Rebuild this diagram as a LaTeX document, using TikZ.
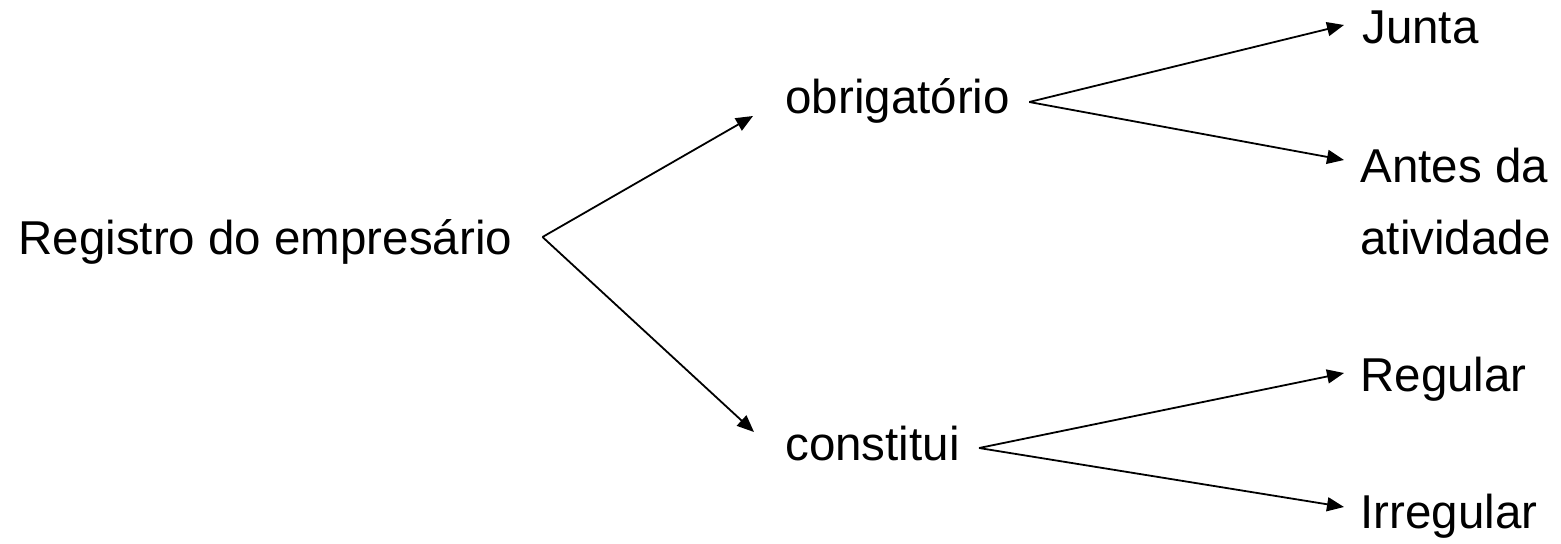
\documentclass[tikz,border=0pt]{standalone}
\usepackage{fontspec}
\setmainfont{Liberation Sans}
\usetikzlibrary{arrows.meta}

\tikzset{
  lbl/.style={inner sep=0pt,anchor=base west,font=\fontsize{23.75}{28}\selectfont},
  arr/.style={-{Triangle[length=8.5pt,width=7pt]},line width=0.9pt}
}

\begin{document}
\begin{tikzpicture}[x=0.5pt,y=-0.5pt]
    \useasboundingbox (0,0) rectangle (1561,543);
    % texts
    \node[lbl] (reg) at (18,254) {Registro do empresário};
    \node[lbl] (obr) at (785,113) {obrigatório};
    \node[lbl] (con) at (785,460) {constitui};
    \node[lbl] (jun) at (1362,43) {Junta};
    \node[lbl] (ant) at (1360,182) {Antes da};
    \node[lbl] (ati) at (1360,254) {atividade};
    \node[lbl] (rgl) at (1360,391) {Regular};
    \node[lbl] (irr) at (1360,528) {Irregular};
    % fork points
    \coordinate (regfork) at ([shift={(30,-17)}]reg.base east);
    \coordinate (obrfork) at ([shift={(19,-11)}]obr.base east);
    \coordinate (confork) at ([shift={(19,-12)}]con.base east);
    % arrows
    \draw[arr] (regfork) -- ([shift={(-32,3)}]obr.base west);
    \draw[arr] (regfork) -- ([shift={(-31,-28)}]con.base west);
    \draw[arr] (obrfork) -- ([shift={(-18,-18)}]jun.base west);
    \draw[arr] (obrfork) -- ([shift={(-16,-22)}]ant.base west);
    \draw[arr] (confork) -- ([shift={(-16,-18)}]rgl.base west);
    \draw[arr] (confork) -- ([shift={(-16,-21)}]irr.base west);
\end{tikzpicture}
\end{document}
